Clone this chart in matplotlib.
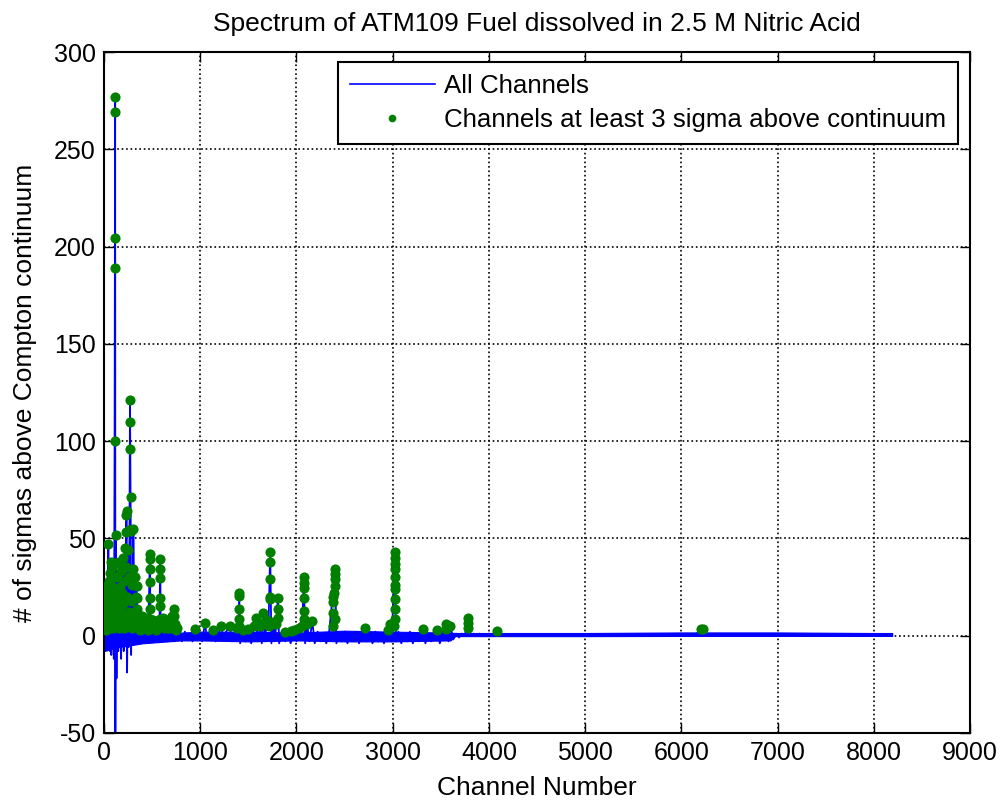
import numpy as np
import matplotlib
matplotlib.use("Agg")
import matplotlib.pyplot as plt
from matplotlib.lines import Line2D

plt.rcParams['font.family'] = ['Liberation Sans', 'DejaVu Sans']
plt.rcParams['axes.unicode_minus'] = False

# (channel, sigmas) vertices of the spectrum trace
spectrum_pts = [
    (0, 0), (8, 15), (12, -3), (18, 25), (24, -5), (28, 26), (34, -6), (40, 12), (45, 47), (50, -4),
    (58, 32), (62, -8), (68, 22), (72, 38), (76, -10), (85, 35), (88, -6), (95, 20), (98, 30), (102, -12),
    (106, 25), (110, 100), (116, 277), (118, -60), (122, 30), (125, 52), (130, -22), (135, 15), (140, 30),
    (148, -8), (155, 38), (162, -5), (170, 30), (178, -12), (185, 35), (192, -4), (198, 40), (205, -8),
    (215, 45), (222, -5), (228, 53), (232, 64), (236, 64), (240, -19), (250, 44), (255, -6), (265, 55),
    (270, 121), (278, 54), (282, -10), (285, 18), (292, 26), (300, -3), (305, 55), (312, 12), (318, 30),
    (325, -2), (332, 20), (338, 25), (345, 14), (352, -2), (360, 8), (368, -1), (375, 5), (385, 6),
    (392, -2), (400, 4),
    (410, -2), (420, 4), (440, -3), (460, 3), (478, 42), (482, -2), (500, 5), (520, -3), (540, 3),
    (560, 6), (575, -2), (584, 40), (590, -3), (600, 5), (620, -2), (640, 7), (660, -3), (680, 4),
    (700, 6), (715, -2), (727, 13.6), (735, -3), (745, 3), (760, -2), (790, 2), (810, -3), (840, 2),
    (870, -2), (900, 1), (920, -3), (945, 3.2), (960, -2), (990, 1), (1020, -3), (1050, 6.5), (1070, -2),
    (1100, 1), (1131, 3), (1160, -3), (1190, 1), (1219, 5), (1240, -2), (1270, 2), (1306, 5), (1330, -3),
    (1360, 1), (1380, 4), (1395, -2), (1405, 22), (1415, -4), (1440, 3), (1470, -3), (1500, 3.5),
    (1530, -4), (1560, 5), (1576, 9), (1600, -3), (1620, 5), (1640, -4), (1657, 11.7), (1675, -3),
    (1690, 8), (1710, 5), (1727, 43), (1740, -4), (1760, 7), (1775, -3), (1790, 6), (1807, 19.5),
    (1820, -4), (1850, 2), (1884, -3), (1910, 2), (1940, -4), (1972, 3), (2000, -3), (2030, 4),
    (2060, 5), (2077, 30), (2090, -4), (2110, 6), (2135, -3), (2165, 7.4), (2190, -4), (2220, 2),
    (2250, -3), (2280, 1), (2310, -4), (2340, 2), (2375, 20), (2390, 22), (2403, 34), (2415, -4),
    (2440, 1), (2470, -3), (2500, 2), (2530, -4), (2560, 1), (2590, -3), (2620, 2), (2650, -4),
    (2680, 1), (2708, 4), (2730, -3), (2760, 1), (2790, -4), (2820, 2), (2850, -3), (2880, 1),
    (2910, -4), (2950, 3), (2970, 5.7), (2990, -3), (3023, 42.8), (3035, -3), (3060, 2), (3090, -4),
    (3120, 1), (3150, -3), (3180, 2), (3210, -4), (3240, 1), (3270, -3), (3300, 1), (3318, 3.6),
    (3340, -4), (3370, 1), (3400, -3), (3430, 1), (3463, 2.8), (3490, -4), (3520, 1), (3554, 5.8),
    (3580, -3), (3600, 5), (3630, -2), (3660, 1), (3690, -1), (3720, 1), (3750, 0), (3786, 9.2),
    (3810, 0), (3840, 1), (3870, 0), (3900, 1), (3950, 0), (4000, 1), (4050, 0), (4087, 2.4),
    (4120, 0.5), (6150, 0.6), (6210, 3.2), (6270, 0.6), (8191, 0.6),
]

# noise envelope of the trace (channel, low, high)
band_ch = [0, 150, 400, 800, 1000, 1500, 2000, 2500, 3000, 3600, 3650, 4000, 5000, 6000, 7000, 8000, 8191]
band_lo = [-8, -6, -4, -2.5, -2.5, -3, -2.5, -3, -3, -2.5, -0.3, -0.3, -0.3, -0.2, -0.2, -0.2, -0.2]
band_hi = [3, 3, 2, 1.5, 2, 2, 1.5, 2.5, 2, 1.5, 1.3, 1.3, 1.3, 1.6, 1.6, 1.3, 1.3]

# channels flagged >= 3 sigma above the continuum
flagged_pts = [
    (10, 5), (10, 10), (12, 15), (15, 20), (15, 25), (18, 8), (20, 3), (22, 12), (25, 18), (28, 25.5),
    (30, 6), (32, 22), (35, 14), (38, 4), (40, 10), (45, 47.3), (48, 16), (52, 28), (55, 8), (58, 32),
    (62, 22), (65, 4), (68, 12), (72, 38), (75, 26), (78, 6), (82, 18), (85, 35), (88, 10), (92, 4),
    (95, 20), (98, 30), (102, 7), (105, 14), (110, 100), (114, 37.5), (116, 189), (116, 204.6),
    (116, 269), (116, 277), (125, 51.5), (128, 24), (132, 6), (135, 15),
    (140, 30), (145, 10), (150, 20), (155, 38), (160, 4), (165, 25), (170, 14), (175, 6), (180, 33),
    (185, 22), (190, 8), (195, 40), (200, 16), (205, 4), (210, 28), (215, 45), (220, 10), (225, 35),
    (228, 53), (232, 62), (236, 64), (240, 20), (245, 5), (250, 44), (255, 30), (260, 12), (265, 54.5),
    (270, 121), (272, 110), (274, 96), (276, 71), (278, 54), (280, 8), (285, 18), (290, 26), (295, 4),
    (300, 34), (305, 54.7), (310, 12), (318, 30), (325, 6), (330, 20), (338, 25.5), (343, 19.5),
    (345, 13.6), (350, 4), (355, 8), (365, 5), (375, 3), (385, 6), (395, 10),
    (410, 7), (420, 4), (430, 5), (440, 6), (450, 9), (460, 3), (470, 4), (478, 8.3), (478, 13.6),
    (478, 19.5), (478, 27.6), (478, 34), (478, 39.3), (478, 41.8), (490, 6), (500, 5), (510, 8),
    (520, 4), (530, 5), (540, 3), (550, 4), (560, 6), (570, 7), (582, 8.3), (584, 15.2),
    (584, 19.5), (584, 29.8), (584, 34), (584, 39.3), (600, 5), (610, 9), (620, 4), (630, 5),
    (640, 7), (650, 4), (660, 5), (670, 8), (680, 4), (690, 5), (700, 6), (710, 10), (715, 4),
    (720, 7), (727, 13.6), (730, 10.1), (733, 5.8), (740, 5), (745, 3), (760, 4), (945, 3.2),
    (1050, 6.5), (1131, 3), (1219, 5), (1306, 5), (1380, 4), (1400, 5), (1405, 8.3), (1405, 13.4),
    (1405, 20.3), (1405, 22), (1440, 3), (1500, 3.5), (1560, 5), (1576, 9), (1620, 5), (1657, 6.5),
    (1657, 11.7), (1690, 8), (1710, 5), (1727, 18.6), (1727, 20), (1727, 29), (1727, 38), (1727, 43),
    (1760, 7), (1790, 6), (1807, 9), (1807, 13.4), (1807, 19.5), (1884, 2), (1940, 2.5), (1972, 3),
    (2030, 4), (2060, 5), (2077, 8.3), (2077, 12.6), (2077, 19.5), (2077, 24.6), (2077, 27), (2077, 30),
    (2110, 6), (2165, 7.4), (2375, 5), (2375, 11.7), (2375, 17), (2375, 20), (2390, 22), (2403, 8.3),
    (2403, 25.5), (2403, 29), (2403, 31.5), (2403, 34), (2708, 4), (2950, 3), (2970, 5.7), (3015, 5),
    (3023, 8.3), (3023, 13.4), (3023, 18.6), (3023, 24), (3023, 26), (3023, 30), (3023, 34),
    (3023, 36.7), (3023, 40), (3023, 42.8), (3318, 3.6), (3463, 2.8), (3554, 3.2), (3554, 5.8),
    (3600, 5), (3786, 4.1), (3786, 6.7), (3786, 9.2), (4087, 2.4), (6200, 3.2), (6230, 3.2),
]

x_ticks = list(range(0, 9001, 1000))
y_ticks = list(range(-50, 301, 50))

spec = np.array(spectrum_pts, dtype=float)
flag = np.array(flagged_pts, dtype=float)
blue = '#0000ff'
green = '#007f00'

fig = plt.figure(figsize=(10, 8), dpi=100)
ax = fig.add_axes([0.104, 0.084, 0.866, 0.851])

ax.fill_between(band_ch, band_lo, band_hi, color=blue, lw=0.8, zorder=2)
ax.plot(spec[:, 0], spec[:, 1], color=blue, lw=1.3, zorder=2)
ax.plot(flag[:, 0], flag[:, 1], ls='none', marker='o', ms=7.3, color=green,
        markeredgewidth=0, zorder=3)

ax.set_xlim(0, 9000)
ax.set_ylim(-50, 300)
ax.set_xticks(x_ticks)
ax.set_yticks(y_ticks)
ax.tick_params(direction='in', top=True, right=True, labelsize=18, length=7, width=1, pad=6)
ax.grid(True, color='black', linestyle=':', linewidth=1.2)
for s in ax.spines.values():
    s.set_linewidth(1.5)

ax.set_xlabel('Channel Number', fontsize=19, labelpad=8)
ax.set_ylabel('# of sigmas above Compton continuum', fontsize=19, labelpad=12)
ax.set_title('Spectrum of ATM109 Fuel dissolved in 2.5 M Nitric Acid', fontsize=19, pad=15)

handles = [Line2D([0], [0], color=blue, lw=1.2),
           Line2D([0], [0], ls='none', marker='o', ms=5.5, color=green, markeredgewidth=0)]
leg = ax.legend(handles, ['All Channels', 'Channels at least 3 sigma above continuum'],
                loc='upper right', bbox_to_anchor=(0.986, 0.985), borderaxespad=0,
                fontsize=18.6, frameon=True, fancybox=False, edgecolor='black', framealpha=1,
                borderpad=0.45, labelspacing=0.4, handlelength=3.3, handletextpad=0.35)
leg.get_frame().set_linewidth(1.5)

fig.savefig('out.png', dpi=100)
